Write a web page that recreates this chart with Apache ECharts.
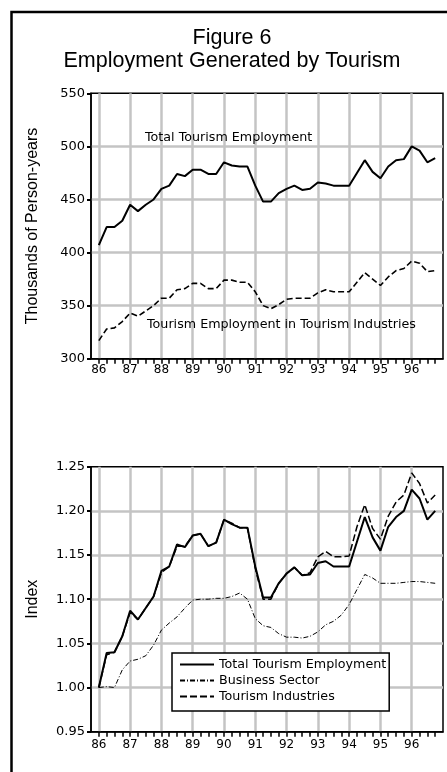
<!DOCTYPE html>
<html><head><meta charset="utf-8">
<script src="https://cdn.jsdelivr.net/npm/echarts@6/dist/echarts.min.js"></script>
<style>html,body{margin:0;padding:0;background:#fff}#c{width:447px;height:772px}</style>
</head><body><div id="c"></div>
<script>
// ---- data ----
const years = ['86','87','88','89','90','91','92','93','94','95','96'];
const quarterNames = ['Q1','Q2','Q3','Q4'];
// Thousands of person-years, quarterly 1986Q1..1996Q4
const totalEmployment = [407,424,424,430,445,439,445,450,460,463,474,472,478,478,474,474,485,482,481,481,463,448,448,456,460,463,459,460,466,465,463,463,463,475,487,476,470,481,487,488,500,496,485,489];
const tourismIndustriesEmployment = [317,328,329,335,343,340,345,350,357,357,365,366,371,371,366,366,374,374,372,372,363,350,347,351,356,357,357,357,362,365,363,363,363,372,381,375,369,377,383,385,392,390,382,383];
// Index (1986Q1 = 1.00)
const indexTotal = [1.000,1.039,1.040,1.058,1.087,1.077,1.090,1.103,1.132,1.137,1.162,1.159,1.172,1.174,1.160,1.164,1.190,1.185,1.181,1.181,1.137,1.102,1.102,1.118,1.129,1.136,1.127,1.128,1.141,1.143,1.137,1.137,1.137,1.165,1.193,1.170,1.155,1.182,1.193,1.200,1.224,1.214,1.190,1.200];
const indexBusiness = [1.000,1.001,1.000,1.020,1.030,1.032,1.036,1.048,1.065,1.073,1.080,1.090,1.099,1.100,1.100,1.101,1.101,1.103,1.107,1.100,1.078,1.070,1.068,1.061,1.057,1.057,1.056,1.058,1.063,1.071,1.075,1.082,1.094,1.111,1.128,1.124,1.118,1.118,1.118,1.119,1.120,1.120,1.119,1.118];
const indexIndustries = [1.000,1.037,1.040,1.058,1.085,1.077,1.090,1.103,1.130,1.137,1.160,1.160,1.172,1.174,1.160,1.164,1.190,1.186,1.181,1.181,1.135,1.100,1.100,1.118,1.129,1.136,1.127,1.130,1.148,1.154,1.148,1.148,1.149,1.182,1.207,1.180,1.168,1.194,1.210,1.218,1.243,1.231,1.209,1.218];
const topTicks = [300,350,400,450,500,550];
const bottomTicks = [0.95,1.00,1.05,1.10,1.15,1.20,1.25];
const legendNames = ['Total Tourism Employment','Business Sector','Tourism Industries'];

// ---- build ----
const quarters = [];
years.forEach(y => quarterNames.forEach(q => quarters.push(y + q)));
const categories = ['_s'].concat(quarters, ['_e']);   // half-slot padding at both ends
const pair = arr => arr.map((v, i) => [quarters[i], v]);
const isYear = (i, v) => /Q1$/.test(v);
const isQuarter = (i, v) => v.charAt(0) !== '_';

const SANS = "'DejaVu Sans'";
const ARIAL = "'Liberation Sans'";

function xAxisFor(gridIndex, labelMargin) {
  return {
    type: 'category', gridIndex, data: categories, boundaryGap: false,
    axisLine: {show: true, lineStyle: {color: '#000', width: 1.5}},
    axisTick: {show: true, interval: isQuarter, length: 5, lineStyle: {color: '#000', width: 1.5}},
    axisLabel: {interval: isYear, formatter: v => v.slice(0, 2), margin: labelMargin,
      fontFamily: SANS, fontSize: 12, color: '#000'},
    splitLine: {show: true, interval: isYear, lineStyle: {color: '#c4c4c4', width: 2.5}}
  };
}
function yAxisFor(gridIndex, ticks, name, fmt) {
  return {
    type: 'value', gridIndex, min: ticks[0], max: ticks[ticks.length - 1],
    interval: +(ticks[1] - ticks[0]).toFixed(4),
    name, nameLocation: 'middle', nameRotate: 90, nameGap: 50,
    nameTextStyle: {fontFamily: ARIAL, fontSize: 16, color: '#000'},
    axisLine: {show: true, lineStyle: {color: '#000', width: 1.5}},
    axisTick: {show: true, length: 4, lineStyle: {color: '#000', width: 2}},
    axisLabel: {margin: 6, fontFamily: SANS, fontSize: 13, color: '#000', formatter: fmt},
    splitLine: {show: true, showMinLine: false, showMaxLine: false, lineStyle: {color: '#c4c4c4', width: 2.5}}
  };
}
function lineSeries(name, xi, yi, arr, width, type) {
  return {
    name, type: 'line', xAxisIndex: xi, yAxisIndex: yi, data: pair(arr),
    symbol: 'none', smooth: false,
    lineStyle: {color: '#000', width, type}, itemStyle: {color: '#000'}
  };
}

const chart = echarts.init(document.getElementById('c'), null, {renderer: 'canvas'});
chart.setOption({
  animation: false,
  backgroundColor: '#fff',
  grid: [
    {left: 91, top: 93.3, width: 352, height: 265.4, show: true, borderColor: '#000', borderWidth: 1.5, backgroundColor: 'transparent'},
    {left: 91, top: 466.7, width: 352, height: 265, show: true, borderColor: '#000', borderWidth: 1.5, backgroundColor: 'transparent'}
  ],
  xAxis: [xAxisFor(0, 5), xAxisFor(1, 7)],
  yAxis: [
    yAxisFor(0, topTicks, 'Thousands of Person-years', v => String(v)),
    yAxisFor(1, bottomTicks, 'Index', v => v.toFixed(2))
  ],
  legend: {
    data: legendNames, orient: 'vertical', left: 172, top: 653,
    padding: [5, 3, 8, 7], itemWidth: 34, itemHeight: 12, itemGap: 3,
    borderColor: '#000', borderWidth: 1.5, backgroundColor: '#fff',
    selectedMode: false, itemStyle: {opacity: 0},
    textStyle: {fontFamily: SANS, fontSize: 12.7, color: '#000'}
  },
  series: [
    lineSeries('Tourism Employment in Tourism Industries (thousands)', 0, 0, tourismIndustriesEmployment, 1.6, [6, 3]),
    lineSeries('Total Tourism Employment (thousands)', 0, 0, totalEmployment, 2, 'solid'),
    lineSeries('Business Sector', 1, 1, indexBusiness, 1, [5, 2, 1, 2]),
    lineSeries('Tourism Industries', 1, 1, indexIndustries, 1.5, [7, 3]),
    lineSeries('Total Tourism Employment', 1, 1, indexTotal, 2, 'solid')
  ],
  graphic: [
    {type: 'rect', silent: true, z: 100, shape: {x: 11.5, y: 12, width: 480, height: 800},
      style: {fill: null, stroke: '#000', lineWidth: 2.5}},
    {type: 'text', x: 232, y: 38, silent: true,
      style: {text: 'Figure 6', font: "21.5px 'Liberation Sans'", fill: '#000', textAlign: 'center', textVerticalAlign: 'middle'}},
    {type: 'text', x: 232, y: 61, silent: true,
      style: {text: 'Employment Generated by Tourism', font: "21.5px 'Liberation Sans'", fill: '#000', textAlign: 'center', textVerticalAlign: 'middle'}},
    {type: 'text', x: 145, y: 138, silent: true, z: 50,
      style: {text: 'Total Tourism Employment', font: "12.7px 'DejaVu Sans'", fill: '#000', textAlign: 'left', textVerticalAlign: 'middle'}},
    {type: 'text', x: 147, y: 325, silent: true, z: 50,
      style: {text: 'Tourism Employment in Tourism Industries', font: "12.7px 'DejaVu Sans'", fill: '#000', textAlign: 'left', textVerticalAlign: 'middle'}}
  ]
});
</script>
</body></html>
